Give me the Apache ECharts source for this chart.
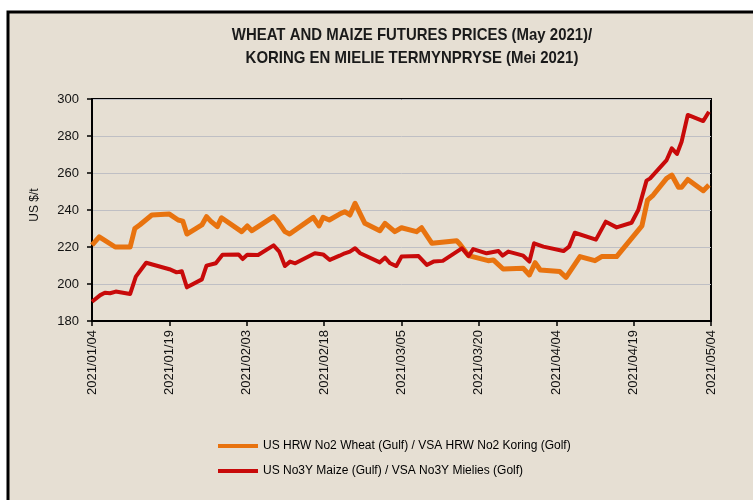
<!DOCTYPE html>
<html>
<head>
<meta charset="utf-8">
<script src="https://cdn.jsdelivr.net/npm/echarts@6/dist/echarts.min.js"></script>
<style>
html,body{margin:0;padding:0;background:#ffffff;}
#chart{width:753px;height:500px;}
</style>
</head>
<body>
<div id="chart"></div>
<script>
// Day offsets from 2021/01/04 and prices (US$/t)
const wheatDays = [0,1.4,4.5,7.4,8.3,9.3,11.6,15,16.7,17.6,18.4,21.3,22.2,23,24.3,25.1,29,30.1,31,35.2,36,37.4,38.3,42.9,44,44.8,46,48,49,50,51,52.9,55.8,56.8,58.7,60,62.9,63.9,65.9,70.7,71.3,73,76.8,77.8,79.7,83.6,84.8,85.9,86.9,90.7,91.9,94.6,97.5,98.8,101.7,106.6,107.7,108.8,111.4,112.4,113.7,114.3,115.5,118.5,119.6];
const wheatPrices = [221,225.5,220,220,230,232,237.3,237.8,234.6,234,227,231.9,236.4,234,231,235.8,228.3,231.4,228.8,236.4,234,228.3,227,236,231.4,236,234.6,237.8,239.1,237.3,243.6,232.8,228.8,232.8,228.3,230.4,228.3,230.4,222,223.4,221.6,215.3,212.6,213,208.1,208.5,204.9,211.5,207.6,206.7,203.6,214.8,212.6,214.8,214.8,231.4,245.4,248.1,257.1,258.9,252.3,252.3,256.5,250.4,253.5];
const maizeDays = [0,1.6,2.5,3.5,4.6,7.4,8.5,10.5,15,16.4,17.4,18.4,21.3,22.2,24,25.3,28.4,29.2,30.1,32.2,35.2,36.3,37.4,38.4,39.4,43.2,44.8,46.1,48,49,50,51,52,55.8,56.8,57.8,59,60,63.3,64.9,66.2,68,71.7,73,73.9,76.5,78.8,79.6,80.7,83.6,84.8,85.7,87.5,91.4,92.5,93.6,97.7,99.6,101.7,104.6,105.9,107.5,108.2,111.4,112.4,113.4,114.3,115.5,118.5,119.6];
const maizePrices = [190.4,194,195.3,195,195.9,194.6,204,211.5,208,206.3,206.9,198.2,202.5,209.9,211.2,215.8,216,213.5,215.8,215.7,220.9,217.5,209.7,212.1,211.2,216.6,216,213,215.3,216.6,217.5,219.3,216.6,211.7,214.2,211.2,209.7,214.8,215.1,210.3,212.1,212.5,219.3,215.1,218.9,216.6,217.8,215.3,217.5,215.3,212.1,222,220.2,217.8,220.2,227.7,224,233.7,230.6,233.1,240,255.9,257.1,267,273.3,270.3,276.9,291.4,288.1,293.1];
const xTickLabels = ['2021/01/04','2021/01/19','2021/02/03','2021/02/18','2021/03/05','2021/03/20','2021/04/04','2021/04/19','2021/05/04'];
const seriesNames = ['US HRW No2 Wheat (Gulf) / VSA HRW No2 Koring (Golf)','US No3Y Maize (Gulf) / VSA No3Y Mielies (Golf)'];
const titleLines = ['WHEAT AND MAIZE FUTURES PRICES (May 2021)/','KORING EN MIELIE TERMYNPRYSE (Mei 2021)'];

const sans = "'Liberation Sans',Arial,sans-serif";

const chart = echarts.init(document.getElementById('chart'), null, {renderer:'canvas'});
chart.setOption({
  animation:false,
  backgroundColor:'#ffffff',
  graphic:[
    {type:'rect', z:-10, shape:{x:8,y:12,width:770,height:500}, style:{fill:'#e6dfd3', stroke:'#000', lineWidth:3}},
    {type:'text', x:412, y:35, scaleX:0.88, style:{text:titleLines[0], fill:'#1a1a1a', font:'bold 17px '+sans, textAlign:'center', textVerticalAlign:'middle'}},
    {type:'text', x:412, y:58, scaleX:0.88, style:{text:titleLines[1], fill:'#1a1a1a', font:'bold 17px '+sans, textAlign:'center', textVerticalAlign:'middle'}},
    {type:'text', x:35, y:205, rotation:Math.PI/2, style:{text:'US $/t', fill:'#111', font:'12px '+sans, textAlign:'center', textVerticalAlign:'middle'}}
  ],
  grid:{left:92, right:42, top:99, bottom:179, show:true, borderColor:'#000', borderWidth:2, backgroundColor:'transparent'},
  legend:{
    orient:'vertical', left:213, top:435, itemWidth:40, itemHeight:4, itemGap:13, icon:'rect',
    textStyle:{fontSize:12, color:'#000', fontFamily:sans},
    data:seriesNames
  },
  xAxis:{
    type:'value', min:0, max:120, interval:15,
    axisLine:{show:true, lineStyle:{color:'#000', width:2}},
    axisTick:{show:true, inside:false, length:5, lineStyle:{color:'#000', width:1.5}},
    splitLine:{show:false},
    axisLabel:{rotate:90, fontSize:13, color:'#111', fontFamily:sans, margin:9,
      formatter:function(v){ return xTickLabels[Math.round(v/15)] || ''; }}
  },
  yAxis:{
    type:'value', min:180, max:300, interval:20,
    axisLine:{show:true, lineStyle:{color:'#000', width:2}},
    axisTick:{show:true, inside:false, length:5, lineStyle:{color:'#000', width:1.5}},
    splitLine:{show:true, lineStyle:{color:'#bfbfc4', width:1}},
    axisLabel:{fontSize:13, color:'#111', fontFamily:sans, margin:13}
  },
  series:[
    {name:seriesNames[0], type:'line', symbol:'none', color:'#e8730f',
     lineStyle:{width:5, color:'#e8730f', join:'round'},
     data:wheatDays.map((d,i)=>[d,wheatPrices[i]]), z:3},
    {name:seriesNames[1], type:'line', symbol:'none', color:'#c80a0a',
     lineStyle:{width:4, color:'#c80a0a', join:'round'},
     data:maizeDays.map((d,i)=>[d,maizePrices[i]]), z:4}
  ]
});
</script>
</body>
</html>
